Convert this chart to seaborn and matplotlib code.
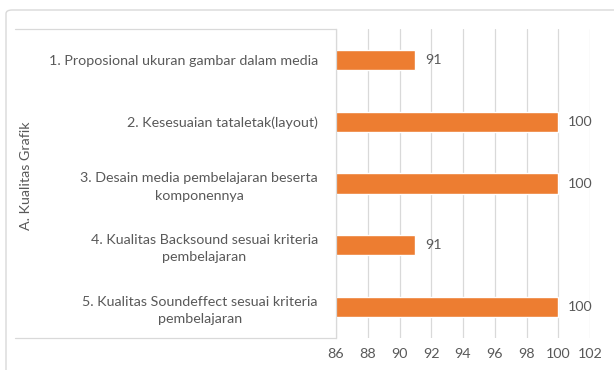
import matplotlib
matplotlib.use("Agg")
import matplotlib.pyplot as plt
import seaborn as sns
import pandas as pd
from matplotlib.patches import FancyBboxPatch
from matplotlib.lines import Line2D

categories = [
    "1. Proposional ukuran gambar dalam media",
    "2. Kesesuaian tataletak(layout)",
    "3. Desain media pembelajaran beserta\nkomponennya",
    "4. Kualitas Backsound sesuai kriteria\npembelajaran",
    "5. Kualitas Soundeffect sesuai kriteria\npembelajaran",
]
values = [91, 100, 100, 91, 100]
group_label = "A. Kualitas Grafik"
xticks = [86, 88, 90, 92, 94, 96, 98, 100, 102]

sns.set_theme(style="white")
plt.rcParams['font.family'] = ['Lato', 'DejaVu Sans']

W, H = 614, 370
fig = plt.figure(figsize=(W / 100, H / 100), dpi=100)
fig.patch.set_facecolor("white")

# outer border
fig.add_artist(FancyBboxPatch((6 / W, -0.1), (W + 20) / W, (H - 10) / H + 0.1,
                              boxstyle="round,pad=0,rounding_size=0.01",
                              transform=fig.transFigure, fill=False,
                              edgecolor="#D9D9D9", linewidth=1.0))

left, right, top, bottom = 336, 590, 29, 338
ax = fig.add_axes([left / W, (H - bottom) / H, (right - left) / W, (bottom - top) / H])

df = pd.DataFrame({"cat": categories, "val": values})
sns.barplot(data=df, x="val", y="cat", orient="h", color="#ED7D31",
            width=0.33, ax=ax, saturation=1)

fs = 10.3
ax.set_xlim(86, 102)
ax.set_ylim(len(categories) - 0.5, -0.5)
ax.set_xticks(xticks)
ax.set_xticklabels([str(t) for t in xticks], color="#595959", fontsize=fs)
ax.set_yticks(range(len(categories)))
ax.set_yticklabels(categories, color="#595959", fontsize=fs,
                   multialignment="center", linespacing=1.5)
ax.tick_params(axis="x", length=0, pad=7)
ax.tick_params(axis="y", length=0, pad=13)
ax.set_xlabel("")
ax.set_ylabel("")
ax.grid(axis="x", color="#D9D9D9", linewidth=0.9)
ax.set_axisbelow(True)
for s in ["top", "right", "bottom"]:
    ax.spines[s].set_visible(False)
ax.spines["left"].set_color("#D9D9D9")
ax.spines["left"].set_linewidth(0.9)

for i, v in enumerate(values):
    ax.text(v + 0.6, i, str(v), va="center", ha="left", color="#595959", fontsize=fs)

# category separator lines
for y in (top, bottom):
    fig.add_artist(Line2D([15 / W, left / W], [(H - y) / H, (H - y) / H],
                          color="#D9D9D9", linewidth=0.9, transform=fig.transFigure))

fig.text(26 / W, (H - 176) / H, group_label, rotation=90, ha="center", va="center",
         color="#595959", fontsize=fs)

fig.savefig("out.png", dpi=100, facecolor="white")
